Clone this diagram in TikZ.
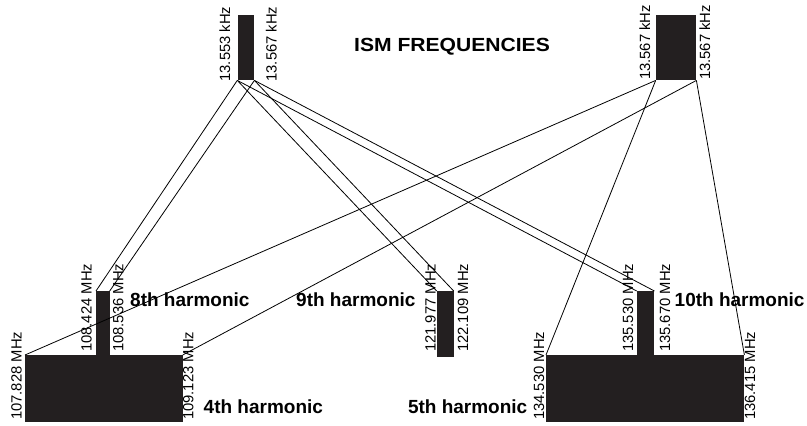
\documentclass[tikz,border=0pt]{standalone}
\usepackage{fontspec}
\setmainfont{Liberation Sans}
\definecolor{blk}{RGB}{35,31,32}
\begin{document}
\begin{tikzpicture}[x=1pt,y=-1pt,
  band/.style={draw=none,fill=blk,rectangle,inner sep=0pt,anchor=north west},
  freq/.style={rotate=90,anchor=base west,inner sep=0pt,font=\fontsize{14.8}{16}\selectfont},
  harm/.style={anchor=base west,inner sep=0pt,font=\fontsize{19}{22}\selectfont\bfseries},
  link/.style={draw=black,line width=0.8pt}]
\useasboundingbox (0,0) rectangle (807,426);
% bands
\node[band,minimum width=16.7pt,minimum height=65pt] (t1) at (237.3,15) {};
\node[band,minimum width=40.3pt,minimum height=65pt] (t2) at (655.7,15) {};
\node[band,minimum width=13.3pt,minimum height=65pt] (h8) at (96,291) {};
\node[band,minimum width=16.6pt,minimum height=65.7pt] (h9) at (436.7,291) {};
\node[band,minimum width=17.3pt,minimum height=65pt] (h10) at (636.7,291) {};
\node[band,minimum width=157.3pt,minimum height=66.7pt] (h4) at (25,355) {};
\node[band,minimum width=198pt,minimum height=66.7pt] (h5) at (546,355) {};
% links
\draw[link] (t1.south west) -- (h8.north west);
\draw[link] (t1.south east) -- (h8.north east);
\draw[link] (t1.south west) -- (h9.north west);
\draw[link] (t1.south east) -- (h9.north east);
\draw[link] (t1.south west) -- (h10.north west);
\draw[link] (t1.south east) -- (h10.north east);
\draw[link] (t2.south west) -- (h4.north west);
\draw[link] (t2.south east) -- (h4.north east);
\draw[link] (t2.south west) -- (h5.north west);
\draw[link] (t2.south east) -- (h5.north east);
% frequency labels
\node[freq] (f1) at (230,81.7) {13.553 kHz};
\node[freq] (f2) at (276.7,81.7) {13.567 kHz};
\node[freq] (f3) at (650,80) {13.567 kHz};
\node[freq] (f4) at (710,80) {13.567 kHz};
\node[freq] (f5) at (91.7,352) {108.424 MHz};
\node[freq] (f6) at (123.3,352) {108.536 MHz};
\node[freq] (f7) at (21.7,420) {107.828 MHz};
\node[freq] (f8) at (193.3,420) {109.123 MHz};
\node[freq] (f9) at (435.5,352) {121.977 MHz};
\node[freq] (f10) at (468,352) {122.109 MHz};
\node[freq] (f11) at (633,352) {135.530 MHz};
\node[freq] (f12) at (670,352) {135.670 MHz};
\node[freq] (f13) at (544,420) {134.530 MHz};
\node[freq] (f14) at (755,420) {136.415 MHz};
% titles
\node[harm] (title) at (354,51.7) {\scalebox{1.11}[1]{ISM FREQUENCIES}};
\node[harm] (l8) at (130,306.7) {8th harmonic};
\node[harm] (l9) at (296,306.7) {9th harmonic};
\node[harm] (l10) at (674.5,306.7) {10th harmonic};
\node[harm] (l4) at (203.5,413.3) {4th harmonic};
\node[harm] (l5) at (407.8,413.3) {5th harmonic};
\end{tikzpicture}
\end{document}
